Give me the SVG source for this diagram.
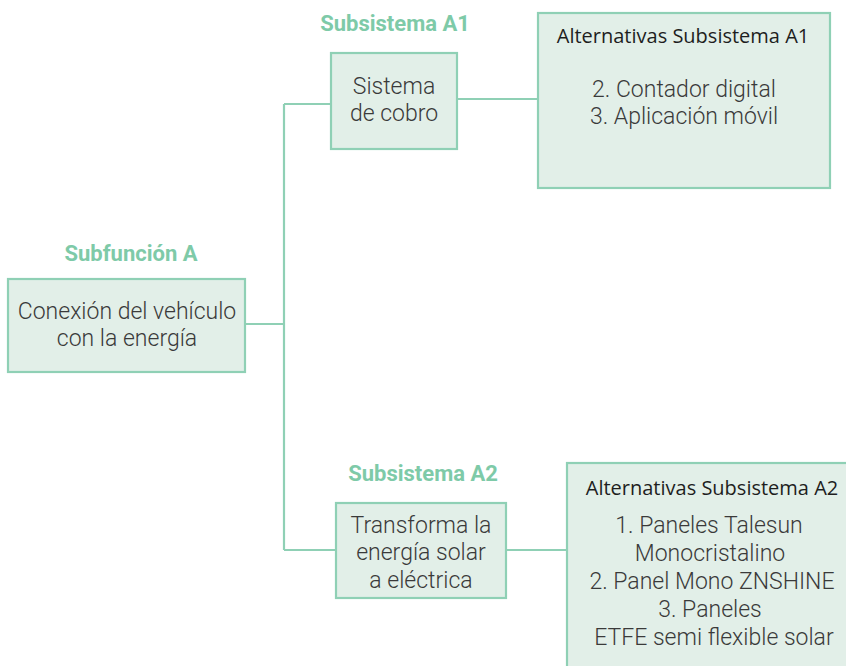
<svg xmlns="http://www.w3.org/2000/svg" width="846" height="666" viewBox="0 0 846 666">
<style>
.box{fill:#e2efe8;stroke:#8fd0b5;stroke-width:2.2}
.con{fill:none;stroke:#8fd0b5;stroke-width:2.2}
.lbl{font-family:Roboto,"Liberation Sans",sans-serif;font-weight:700;font-size:22px;fill:#7ecaa8;text-anchor:middle}
.txt{font-family:Roboto,"Liberation Sans",sans-serif;font-weight:300;font-size:23px;fill:#3a3a3a;text-anchor:middle}
.ttl{font-family:"Open Sans","Noto Sans","Liberation Sans",sans-serif;font-size:20px;fill:#1e1e1e;text-anchor:middle}
</style>
<rect width="846" height="666" fill="#ffffff"/>
<g id="connectors">
<path class="con" d="M284 104 V550"/>
<path class="con" d="M245 324 H284"/>
<path class="con" d="M284 104 H331"/>
<path class="con" d="M284 550 H336"/>
<path class="con" d="M457 99 H538"/>
<path class="con" d="M506 550 H567"/>
</g>
<g id="subfuncionA">
<text class="lbl" x="131" y="261">Subfunción A</text>
<rect class="box" x="8" y="279" width="237" height="93"/>
<text class="txt" x="127" y="319">Conexión del vehículo</text>
<text class="txt" x="127" y="346">con la energía</text>
</g>
<g id="subsistemaA1">
<text class="lbl" x="395" y="31">Subsistema A1</text>
<rect class="box" x="331" y="53" width="126" height="96"/>
<text class="txt" x="394" y="94">Sistema</text>
<text class="txt" x="394" y="121">de cobro</text>
</g>
<g id="alternativasA1">
<rect class="box" x="538" y="13" width="292" height="175"/>
<text class="ttl" x="683" y="43">Alternativas Subsistema A1</text>
<text class="txt" x="684" y="97">2. Contador digital</text>
<text class="txt" x="684" y="124">3. Aplicación móvil</text>
</g>
<g id="subsistemaA2">
<text class="lbl" x="423" y="481">Subsistema A2</text>
<rect class="box" x="336" y="503" width="170" height="95"/>
<text class="txt" x="421" y="533">Transforma la</text>
<text class="txt" x="421" y="560">energía solar</text>
<text class="txt" x="421" y="588">a eléctrica</text>
</g>
<g id="alternativasA2">
<rect class="box" x="567" y="463" width="290" height="215"/>
<text class="ttl" x="712" y="495">Alternativas Subsistema A2</text>
<text class="txt" x="709" y="533">1. Paneles Talesun</text>
<text class="txt" x="710" y="561">Monocristalino</text>
<text class="txt" x="712" y="589">2. Panel Mono ZNSHINE</text>
<text class="txt" x="710" y="617">3. Paneles</text>
<text class="txt" x="714" y="645">ETFE semi flexible solar</text>
</g>
</svg>
